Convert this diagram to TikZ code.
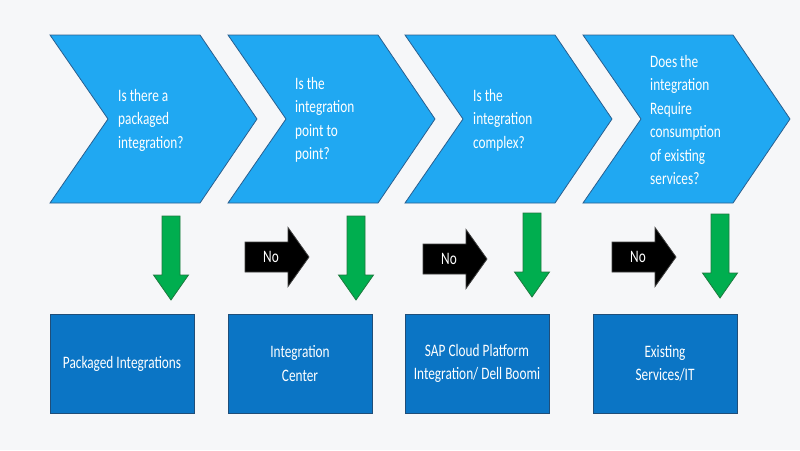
\documentclass[tikz,border=0pt]{standalone}
\usepackage{fontspec}
\setmainfont{Carlito}[FakeStretch=0.76]
\definecolor{bgcol}{HTML}{F6F7F9}
\definecolor{chevfill}{HTML}{20A8F2}
\definecolor{chevline}{HTML}{2A5F8F}
\definecolor{boxfill}{HTML}{0B75C5}
\definecolor{boxline}{HTML}{1F4E79}
\definecolor{gfill}{HTML}{00AE4F}
\definecolor{gline}{HTML}{1D7A3E}
\definecolor{kline}{HTML}{404040}
\begin{document}
\begin{tikzpicture}[x=1pt,y=-1pt,
  chev/.style={fill=chevfill, draw=chevline, line width=0.8pt, line join=miter},
  qtext/.style={text=white, align=left, anchor=west, inner sep=0pt,
    font=\fontsize{17.5}{23.5}\selectfont},
  resbox/.style={rectangle, fill=boxfill, draw=boxline, line width=0.8pt,
    minimum width=144pt, minimum height=99pt, inner sep=0pt, text=white,
    align=center, font=\fontsize{17.5}{23.5}\selectfont},
  notext/.style={text=white, inner sep=0pt, font=\fontsize{17.5}{20}\selectfont},
  gdown/.pic={
    \draw[fill=gfill, draw=gline, line width=0.8pt, line join=miter]
      (-9,0) -- (9,0) -- (9,59) -- (17.5,59) -- (0,84) -- (-17.5,59) -- (-9,59) -- cycle;
    \coordinate (-tip) at (0,84);
  },
  noarrow/.pic={
    \draw[fill=black, draw=kline, line width=0.8pt, line join=miter]
      (0,-15) -- (43,-15) -- (43,-29.5) -- (64,0) -- (43,29.5) -- (43,15) -- (0,15) -- cycle;
    \node[notext] (-lab) at (26,0) {No};
  }
]
\useasboundingbox (0,0) rectangle (800,450);
\fill[bgcol] (0,0) rectangle (800,450);

% chevrons
\foreach \x/\n in {50/1,228/2,405/3,583/4}{
  \draw[chev] (\x,35) -- ++(150,0) -- ++(57,84) -- ++(-57,84) -- ++(-150,0) -- ++(58,-84) -- cycle;
  \coordinate (c\n) at (\x+58,119);
}

% questions
\node[qtext] (q1) at (118,120) {Is there a\\packaged\\integration?};
\node[qtext] (q2) at (295,120) {Is the\\integration\\point to\\point?};
\node[qtext] (q3) at (473,120) {Is the\\integration\\complex?};
\node[qtext] (q4) at (650,120) {Does the\\integration\\Require\\consumption\\of existing\\services?};

% green down arrows
\pic (g1) at (171,216) {gdown};
\pic (g2) at (356,216) {gdown};
\pic (g3) at (532,213) {gdown};
\pic (g4) at (720,214) {gdown};

% black "No" arrows
\pic (n1) at (245,257) {noarrow};
\pic (n2) at (423,259) {noarrow};
\pic (n3) at (612,257) {noarrow};

% result boxes
\node[resbox] (r1) at (122,363.5) {Packaged Integrations};
\node[resbox] (r2) at (300,363.5) {Integration\\Center};
\node[resbox] (r3) at (477,363.5) {SAP Cloud Platform\\Integration/ Dell Boomi};
\node[resbox] (r4) at (665,363.5) {Existing\\Services/IT};
\end{tikzpicture}
\end{document}
